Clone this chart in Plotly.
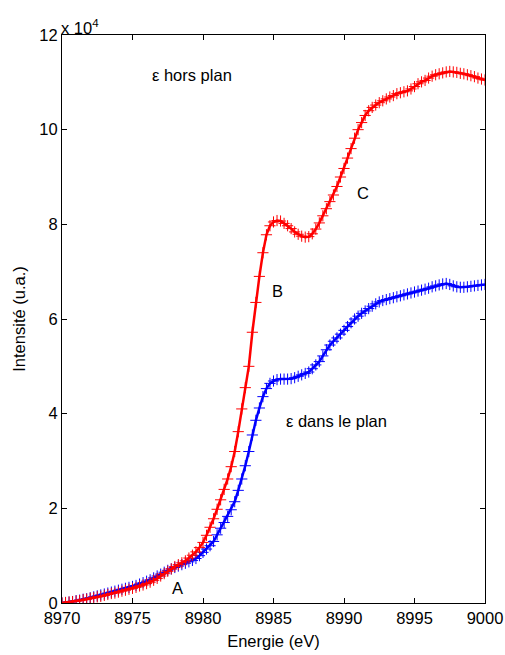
import plotly.graph_objects as go

energy = [
    8970.00, 8970.25, 8970.50, 8970.75, 8971.00, 8971.25, 8971.50, 8971.75,
    8972.00, 8972.25, 8972.50, 8972.75, 8973.00, 8973.25, 8973.50, 8973.75,
    8974.00, 8974.25, 8974.50, 8974.75, 8975.00, 8975.25, 8975.50, 8975.75,
    8976.00, 8976.25, 8976.50, 8976.75, 8977.00, 8977.25, 8977.50, 8977.75,
    8978.00, 8978.25, 8978.50, 8978.75, 8979.00, 8979.25, 8979.50, 8979.75,
    8980.00, 8980.25, 8980.50, 8980.75, 8981.00, 8981.25, 8981.50, 8981.75,
    8982.00, 8982.25, 8982.50, 8982.75, 8983.00, 8983.25, 8983.50, 8983.75,
    8984.00, 8984.25, 8984.50, 8984.75, 8985.00, 8985.25, 8985.50, 8985.75,
    8986.00, 8986.25, 8986.50, 8986.75, 8987.00, 8987.25, 8987.50, 8987.75,
    8988.00, 8988.25, 8988.50, 8988.75, 8989.00, 8989.25, 8989.50, 8989.75,
    8990.00, 8990.25, 8990.50, 8990.75, 8991.00, 8991.25, 8991.50, 8991.75,
    8992.00, 8992.25, 8992.50, 8992.75, 8993.00, 8993.25, 8993.50, 8993.75,
    8994.00, 8994.25, 8994.50, 8994.75, 8995.00, 8995.25, 8995.50, 8995.75,
    8996.00, 8996.25, 8996.50, 8996.75, 8997.00, 8997.25, 8997.50, 8997.75,
    8998.00, 8998.25, 8998.50, 8998.75, 8999.00, 8999.25, 8999.50, 8999.75,
    9000.00,
]

# intensity in units of 1e4
hors_plan = [
    0.00, 0.01, 0.02, 0.03, 0.04, 0.05, 0.07, 0.08,
    0.10, 0.11, 0.13, 0.14, 0.16, 0.18, 0.20, 0.21,
    0.23, 0.25, 0.27, 0.29, 0.31, 0.33, 0.36, 0.38,
    0.41, 0.44, 0.48, 0.52, 0.57, 0.62, 0.67, 0.72,
    0.77, 0.81, 0.85, 0.89, 0.95, 1.01, 1.08, 1.17,
    1.28, 1.43, 1.60, 1.78, 1.98, 2.18, 2.40, 2.62,
    2.88, 3.20, 3.62, 4.10, 4.55, 5.00, 5.72, 6.35,
    6.90, 7.40, 7.78, 7.97, 8.05, 8.08, 8.07, 8.02,
    7.97, 7.91, 7.84, 7.79, 7.75, 7.73, 7.74, 7.80,
    7.90, 8.03, 8.18, 8.33, 8.48, 8.62, 8.80, 9.00,
    9.18, 9.40, 9.60, 9.82, 10.00, 10.15, 10.30, 10.40,
    10.47, 10.52, 10.57, 10.61, 10.65, 10.69, 10.72, 10.76,
    10.78, 10.80, 10.82, 10.86, 10.91, 10.97, 11.01, 11.04,
    11.09, 11.13, 11.16, 11.18, 11.20, 11.22, 11.23, 11.22,
    11.21, 11.19, 11.18, 11.16, 11.14, 11.12, 11.09, 11.07,
    11.05,
]

dans_plan = [
    0.00, 0.01, 0.02, 0.03, 0.05, 0.06, 0.08, 0.09,
    0.11, 0.13, 0.15, 0.17, 0.19, 0.21, 0.23, 0.25,
    0.27, 0.29, 0.31, 0.33, 0.35, 0.37, 0.40, 0.43,
    0.46, 0.49, 0.53, 0.57, 0.61, 0.65, 0.69, 0.72,
    0.75, 0.78, 0.81, 0.84, 0.87, 0.90, 0.94, 1.00,
    1.07, 1.14, 1.21, 1.30, 1.44, 1.58, 1.70, 1.83,
    1.97, 2.14, 2.38, 2.62, 2.90, 3.20, 3.55, 3.86,
    4.12, 4.36, 4.53, 4.64, 4.69, 4.72, 4.73, 4.73,
    4.73, 4.74, 4.76, 4.79, 4.82, 4.85, 4.88, 4.95,
    5.03, 5.10, 5.22, 5.35, 5.45, 5.53, 5.60, 5.68,
    5.76, 5.84, 5.92, 6.00, 6.06, 6.12, 6.17, 6.22,
    6.27, 6.32, 6.36, 6.39, 6.41, 6.43, 6.45, 6.47,
    6.49, 6.51, 6.53, 6.55, 6.57, 6.59, 6.61, 6.63,
    6.65, 6.68, 6.70, 6.72, 6.74, 6.75, 6.73, 6.70,
    6.68, 6.67, 6.67, 6.68, 6.69, 6.70, 6.71, 6.72,
    6.73,
]

x_ticks = [8970, 8975, 8980, 8985, 8990, 8995, 9000]
y_ticks = [0, 2, 4, 6, 8, 10, 12]

FONT = "Liberation Sans, Arial, sans-serif"
FS = 16.5

fig = go.Figure()
for yvals, col in [(dans_plan, "#0000ff"), (hors_plan, "#ff0000")]:
    fig.add_trace(go.Scatter(
        x=energy, y=yvals, mode="lines+markers",
        line=dict(color=col, width=2.5),
        marker=dict(symbol="cross-thin", size=8, line=dict(color=col, width=1), color=col),
        showlegend=False,
    ))

labels = [
    ("ε hors plan", 8979.2, 11.15),
    ("B", 8985.25, 6.6),
    ("C", 8991.35, 8.66),
    ("ε dans le plan", 8989.5, 3.85),
    ("A", 8978.2, 0.32),
]
for txt, x, y in labels:
    fig.add_annotation(x=x, y=y, text=txt, showarrow=False,
                       font=dict(family=FONT, size=FS, color="black"))

fig.add_annotation(xref="paper", yref="paper", x=0, y=1, xanchor="left", yanchor="bottom",
                   text="x 10<sup>4</sup>", showarrow=False, xshift=-3, yshift=-4,
                   font=dict(family=FONT, size=16.5, color="black"))

axis_common = dict(showgrid=False, zeroline=False, showline=True, linecolor="black",
                   linewidth=1, mirror="ticks", ticks="inside", ticklen=5,
                   tickcolor="black", automargin=False,
                   tickfont=dict(family=FONT, size=FS, color="black"))

fig.update_xaxes(range=[8970, 9000], tickvals=x_ticks, ticktext=[str(v) for v in x_ticks],
                 title=dict(text="Energie (eV)", font=dict(family=FONT, size=FS, color="black"), standoff=9),
                 **axis_common)
fig.update_yaxes(range=[0, 12], tickvals=y_ticks, ticktext=[str(v) for v in y_ticks],
                 title=dict(text="Intensité (u.a.)", font=dict(family=FONT, size=FS, color="black"), standoff=9),
                 **axis_common)

fig.update_layout(width=505, height=655, margin=dict(l=62, r=20, t=35, b=52),
                  plot_bgcolor="white", paper_bgcolor="white",
                  font=dict(family=FONT, size=FS, color="black"))

fig.write_html("out.html", config={"displayModeBar": False},
               post_script="document.body.style.margin='0';document.body.style.overflow='hidden';")
